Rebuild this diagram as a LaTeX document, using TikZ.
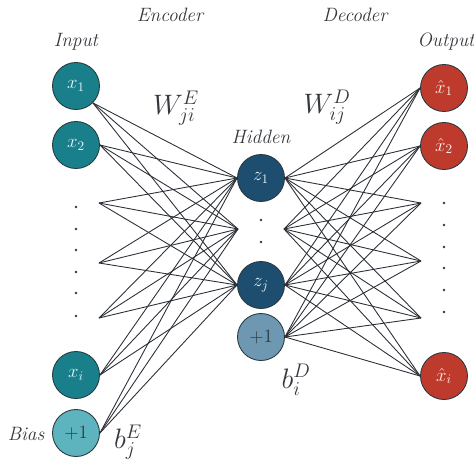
\RequirePackage{fix-cm}
\documentclass[tikz,border=0pt]{standalone}
\usepackage{amsmath}
\usepackage{fontspec}
\usepackage{tikz}
\usepackage{xcolor}
\usetikzlibrary{positioning}

\definecolor{inteal}{HTML}{19808B}
\definecolor{biasteal}{HTML}{5DB3BE}
\definecolor{hidblue}{HTML}{1D4D6F}
\definecolor{hidbias}{HTML}{6E97B2}
\definecolor{outred}{HTML}{BE3A2D}
\definecolor{rimgray}{HTML}{2A3A40}
\definecolor{linkgray}{HTML}{2B2F36}
\definecolor{textgray}{HTML}{34373C}

\begin{document}
\begin{tikzpicture}[
x=0.03cm, y=-0.03cm,
neuron/.style={circle, draw=rimgray, line width=0.75pt, minimum size=1.41cm, inner sep=0pt, font=\fontsize{16}{18}\selectfont},
innode/.style={neuron, fill=inteal, text=white!90!cyan},
inbias/.style={neuron, fill=biasteal, text=rimgray},
hidnode/.style={neuron, fill=hidblue, text=white!90!cyan},
hidbiasnode/.style={neuron, fill=hidbias, text=rimgray},
outnode/.style={neuron, fill=outred, text=white!90!orange},
layername/.style={font=\fontsize{16.5}{19}\selectfont\itshape, text=textgray},
weightname/.style={font=\fontsize{24}{28}\selectfont, text=textgray},
vdot/.style={circle, fill=rimgray, inner sep=0pt, minimum size=2.4pt},
link/.style={draw=linkgray, line width=0.75pt}
]
\useasboundingbox (0,0) rectangle (474,462);

% layer titles
\node[layername] (enc) at (170,15) {Encoder};
\node[layername] (dec) at (355,15) {Decoder};
\node[layername] (inlab) at (76,42) {Input};
\node[layername] (outlab) at (446,42) {Output};
\node[layername] (hidlab) at (261,137) {Hidden};
\node[layername] (biaslab) at (26,434) {Bias};

% input layer
\node[innode] (x1) at (76,86) {$x_1$};
\node[innode] (x2) at (76,145) {$x_2$};
\node[innode] (xi) at (76,375) {$x_i$};
\node[inbias] (bias) at (76,433) {$+1$};
\foreach \y [count=\k] in {207,229,250,272,293,316}
  \node[vdot] (ldot\k) at (76,\y) {};
\coordinate (l3) at (99,203);
\coordinate (l4) at (99,263);
\coordinate (l5) at (99,318);

% hidden layer
\node[hidnode] (z1) at (261,178) {$z_1$};
\node[hidnode] (zj) at (261,285) {$z_j$};
\node[hidbiasnode] (hb) at (261,337) {$+1$};
\node[vdot] (hdot1) at (261,220) {};
\node[vdot] (hdot2) at (261,242) {};
\coordinate (hl) at (238,229);
\coordinate (hr) at (284,229);

% output layer
\node[outnode] (o1) at (444,88) {$\hat{x}_1$};
\node[outnode] (o2) at (444,146) {$\hat{x}_2$};
\node[outnode] (oi) at (444,376) {$\hat{x}_i$};
\foreach \y [count=\k] in {203,225,247,268,290,312}
  \node[vdot] (rdot\k) at (444,\y) {};
\coordinate (r3) at (421,203);
\coordinate (r4) at (421,261);
\coordinate (r5) at (421,318);

% weights and biases
\node[weightname] (wenc) at (176,108) {$W_{ji}^{E}$};
\node[weightname] (wdec) at (327,107) {$W_{ij}^{D}$};
\node[weightname] (benc) at (128,442) {$b_j^{E}$};
\node[weightname] (bdec) at (296,380) {$b_i^{D}$};

% encoder links
\foreach \s in {x1.south east, x2.east, l3, l4, l5, xi.east, bias.east}
  \foreach \t in {z1.west, hl, zj.west}
    \draw[link] (\s) -- (\t);

% decoder links
\foreach \s in {z1.east, hr, zj.east, hb.east}
  \foreach \t in {o1.west, o2.west, r3, r4, r5, oi.west}
    \draw[link] (\s) -- (\t);
\end{tikzpicture}
\end{document}
